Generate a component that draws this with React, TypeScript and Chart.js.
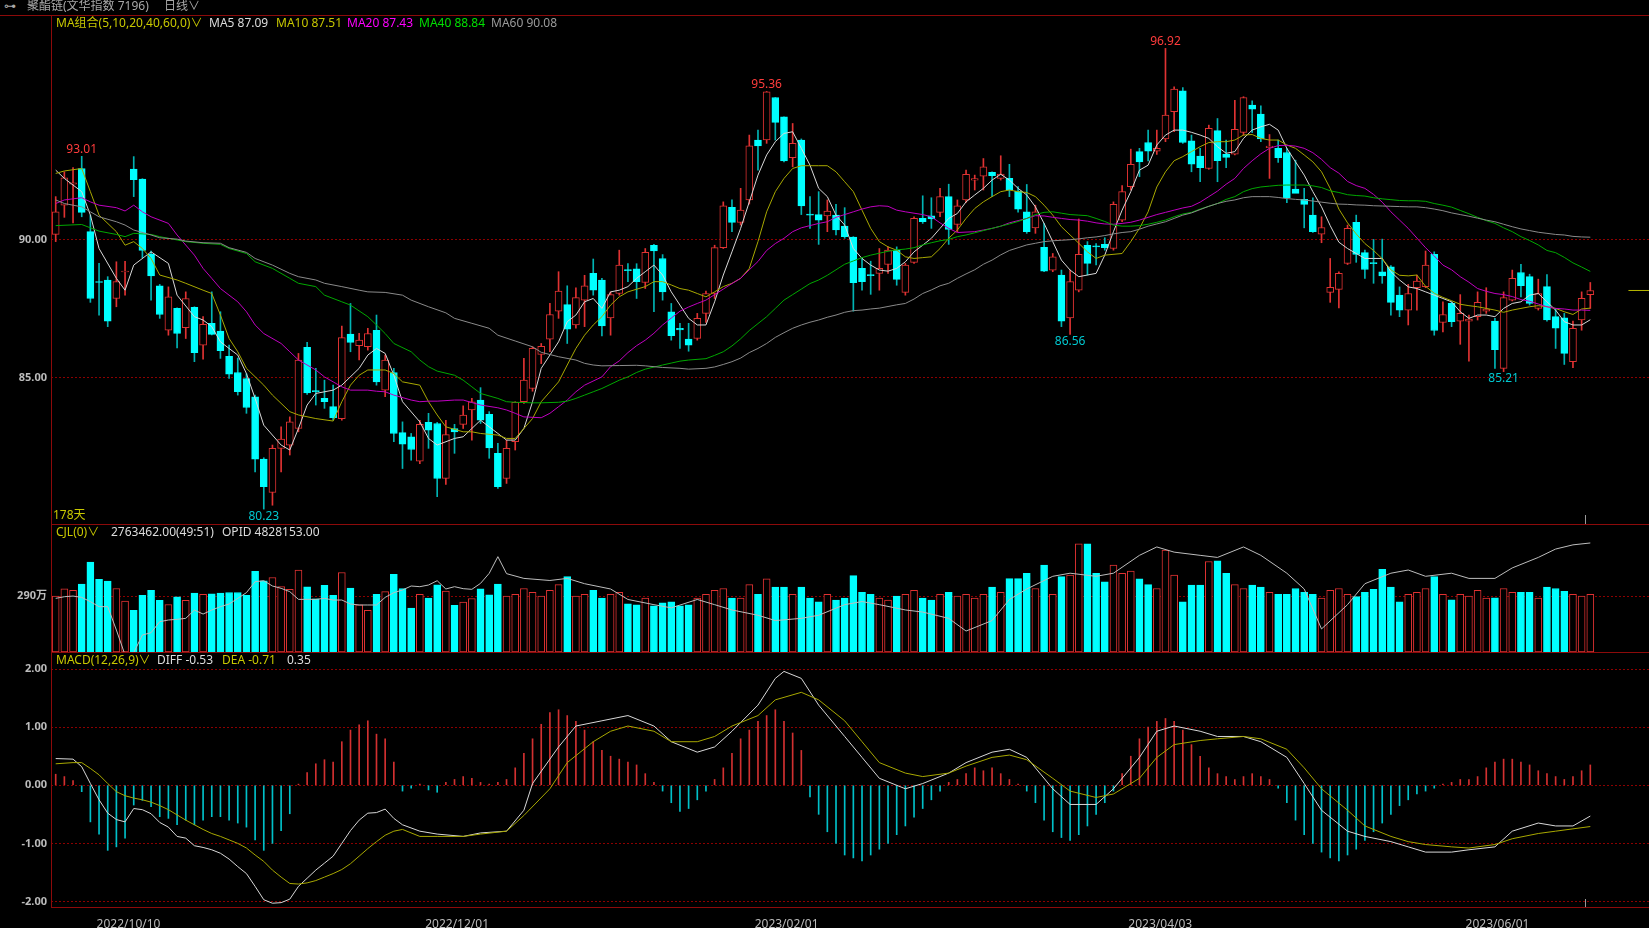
import React, { useEffect, useRef } from 'react';
import { Chart, registerables } from 'chart.js';
Chart.register(...registerables);

// ---------------- DATA ----------------
const OPEN = [90.18,91.24,92.0,92.57,90.28,88.47,88.53,87.86,88.82,92.55,92.19,89.46,88.32,86.71,87.5,86.8,87.54,86.17,86.96,86.68,85.76,85.18,84.96,84.3,82.04,80.83,82.43,82.55,83.15,86.09,84.52,84.24,83.94,83.51,86.57,86.15,86.11,86.71,84.54,85.18,83.0,82.85,81.97,83.37,83.33,81.34,83.15,83.3,83.82,84.18,83.66,82.25,81.34,82.67,84.12,84.6,85.83,86.39,87.4,87.64,86.9,87.8,88.77,88.53,87.16,88.04,88.91,88.93,88.44,89.79,89.31,87.38,86.78,86.39,86.41,87.32,88.04,89.7,91.16,90.62,91.43,93.6,93.6,95.14,94.44,92.96,93.6,90.92,90.9,90.85,90.88,90.48,90.08,88.95,88.71,88.77,89.09,89.61,88.08,89.17,90.76,90.85,90.98,91.55,90.54,91.43,92.15,92.29,92.43,92.21,92.21,91.75,91.0,90.42,89.71,88.89,88.71,87.16,88.16,89.79,89.76,89.82,89.67,90.7,91.91,93.18,93.51,93.2,93.64,94.63,95.38,93.57,93.02,92.57,93.94,93.08,93.09,93.88,94.87,94.54,93.32,93.3,93.15,91.82,91.45,90.88,90.19,88.08,88.19,89.13,90.62,89.52,89.16,88.83,89.01,87.98,87.44,88.25,88.29,89.46,86.99,87.68,87.04,87.04,87.2,87.4,87.04,85.33,87.8,88.8,88.65,87.5,88.29,87.2,87.16,85.57,87.08,88.0];
const HIGH = [91.55,92.45,92.6,93.01,90.88,89.13,88.65,89.19,89.21,93.0,92.2,89.58,88.37,88.28,87.52,88.1,87.56,87.2,88.1,87.38,86.17,85.7,85.14,84.36,82.09,82.55,83.21,83.57,85.87,86.27,85.33,84.9,84.72,86.86,87.68,86.6,86.78,87.26,85.81,85.33,83.39,82.97,83.45,83.7,83.37,83.45,83.3,83.97,84.24,84.63,83.76,82.61,82.73,84.12,85.69,86.11,86.23,87.68,88.83,88.32,88.25,88.7,89.29,88.59,88.1,89.61,89.12,89.12,89.67,89.82,89.45,87.68,86.96,86.96,87.32,88.13,89.79,91.36,91.43,91.85,93.78,93.96,95.36,95.14,94.44,94.2,93.64,91.55,91.73,91.43,91.27,91.15,90.1,89.31,89.21,89.67,89.73,89.73,89.13,90.82,91.58,91.51,91.85,92.0,91.43,92.51,92.33,92.93,92.45,93.03,92.72,91.91,91.99,91.24,90.58,89.49,88.89,88.89,90.74,89.92,89.85,90.06,91.36,91.95,93.27,93.3,93.96,93.96,96.92,95.53,95.5,93.78,93.3,94.14,94.38,93.6,95.04,95.17,95.02,94.84,93.8,93.6,93.3,92.87,91.85,91.51,90.82,89.31,88.83,90.52,90.88,89.61,90.0,90.01,89.05,88.28,88.37,88.71,89.58,89.55,87.74,87.74,88.0,87.26,88.1,88.25,87.14,88.1,88.89,89.1,88.74,88.56,88.73,87.5,87.32,87.04,88.1,88.44];
const LOW = [89.92,90.8,90.6,90.82,87.72,87.26,86.84,87.56,87.98,91.55,89.34,87.8,87.14,86.53,86.07,86.41,85.57,85.66,86.54,85.69,84.96,84.36,83.7,81.58,80.23,80.37,81.58,82.19,83.03,84.38,84.0,83.88,83.45,83.45,85.93,85.63,85.99,84.72,84.3,82.67,81.7,82.0,81.88,82.43,80.68,81.12,82.25,83.15,82.73,83.33,82.07,80.98,81.16,82.37,84.06,84.5,85.5,85.93,87.14,86.23,86.78,86.84,87.98,86.5,86.53,87.98,88.47,87.86,88.22,87.38,87.8,86.35,86.05,85.95,86.35,86.99,87.86,89.67,90.28,90.52,91.28,92.51,93.48,93.6,92.81,92.63,90.9,90.4,89.82,90.28,90.16,90.04,87.4,88.16,88.01,88.16,88.77,88.34,87.98,89.13,90.58,90.4,90.82,89.82,90.28,91.34,91.79,91.79,91.55,92.15,91.55,90.99,90.22,90.22,88.83,88.83,86.84,86.56,88.1,88.71,89.08,89.61,89.61,90.64,91.79,92.27,92.84,93.08,93.54,93.9,93.48,92.45,92.09,92.54,92.09,92.6,93.06,93.78,93.87,93.54,92.21,92.79,91.33,91.7,90.42,90.25,89.88,87.72,87.52,89.09,89.17,88.59,88.41,88.41,87.26,87.2,86.9,87.44,88.25,86.53,86.65,86.84,86.2,85.59,87.08,87.32,85.33,85.21,87.77,87.92,87.62,87.44,87.04,86.05,85.47,85.35,86.71,87.5];
const CLOSE = [91.0,92.23,92.05,90.98,87.86,88.44,87.04,88.47,88.85,92.16,89.6,88.68,87.28,87.92,86.59,87.86,85.9,86.92,86.56,85.97,85.12,84.48,83.91,82.04,81.04,82.43,82.77,83.39,85.63,84.44,84.48,84.12,83.54,86.44,86.27,86.35,86.59,84.84,85.63,82.97,82.58,82.39,83.3,83.09,81.34,82.93,83.03,83.64,84.12,83.45,82.45,81.04,82.43,84.1,84.9,86.05,86.13,87.28,88.13,86.75,87.89,88.32,88.16,86.87,88.0,89.07,88.87,88.47,89.53,89.58,88.1,86.51,86.72,86.17,87.14,88.04,89.7,91.22,90.62,91.06,93.39,93.39,95.35,94.24,92.84,93.48,91.21,90.88,90.7,91.03,90.34,90.1,88.43,88.47,88.69,88.95,89.61,88.55,89.07,90.76,90.64,90.74,91.55,90.36,91.22,92.36,92.2,92.63,92.31,92.37,91.79,91.1,90.28,91.0,88.85,89.37,87.04,88.47,89.46,89.13,89.73,89.7,91.27,91.73,92.72,92.81,93.2,93.3,94.5,95.45,93.51,92.73,92.6,94.02,92.85,92.97,93.99,95.14,94.72,93.64,93.38,92.96,91.51,91.67,91.27,90.28,90.43,88.26,88.77,90.4,89.46,88.91,89.12,88.68,87.72,87.44,88.04,88.49,89.07,86.7,87.28,87.02,87.32,87.11,87.72,87.48,86.01,87.89,88.59,88.32,87.68,88.04,87.08,86.78,85.87,86.78,87.87,88.15];
// volume in 万
const VOLUME = [291,328,320,353,467,377,368,330,264,217,294,320,268,247,286,269,306,299,302,306,309,309,295,419,370,387,340,325,425,338,276,346,294,413,332,245,217,300,314,404,330,228,299,280,349,316,242,259,278,328,297,353,
  290,300,330,310,290,320,350,392,
  290,300,320,280,300,310,250,245,280,240,
  255,260,240,245,280,300,320,330,280,280,
  350,300,380,337,337,300,337,280,260,300,
  270,280,397,310,300,280,270,290,300,320,
  280,270,300,310,290,300,280,300,337,310,
  381,381,409,330,452,300,392,400,562,562,
  409,365,452,409,420,380,350,330,529,400,
  260,348,348,470,474,409,350,330,348,337,
  310,299,299,330,310,299,280,320,330,300,
  288,310,326,430,337,260,300,310,330,392,
  300,271,300,290,320,280,282,330,310,310,
  310,280,337,330,315,300,290,300];
// open interest (万), sampled [index, value]
const OPID: [number, number][] = [[0,432.6],[1,434.1],[2,434.7],[3,433.5],[4,429.6],[5,425.1],[6,425.1],[7,403.9],[8,381.3],[9,383.4],[10,399.4],[11,401.5],[12,411.5],[13,413],[14,413.6],[15,414.5],[16,422],[17,418.4],[18,422],[19,425.1],[20,427.5],[21,432.6],[22,437.8],[23,447.7],[24,448.6],[25,443.8],[26,441.7],[27,438.7],[28,431.7],[29,431.7],[30,431.7],[31,432.6],[32,431.1],[33,431.1],[34,427.5],[35,426.6],[36,426.6],[37,426.6],[38,433.5],[39,437.8],[40,440.2],[41,443.8],[42,443.2],[43,444.7],[44,448.6],[45,441.1],[46,443.2],[47,441.4],[48,440.8],[49,446.2],[50,455.3],[51,470.4],[52,455],[54,450.7],[57,448.8],[59,450.7],[61,445.9],[64,441.1],[66,431.6],[69,426.9],[71,424],[74,431.6],[76,426.9],[78,422.1],[81,417.3],[83,412.5],[86,414.5],[88,417.3],[91,426.9],[93,429.7],[95,426.9],[98,422.1],[100,420.2],[103,414.5],[105,403],[108,412.5],[110,431.6],[112,441.1],[115,452.6],[117,455.4],[120,452.6],[122,455.4],[125,471.6],[127,479.2],[129,474.5],[132,471.6],[134,469.7],[137,479.2],[139,471.6],[142,455.4],[144,441.1],[146,404.9],[149,426.9],[151,445.9],[154,455.4],[156,458.3],[158,452.6],[161,455.4],[163,450.7],[166,450.7],[168,460.2],[171,469.7],[173,477.3],[175,481.1],[177,482.8]];

const MA5: [number, number][] = [[0,92.51],[1,92.21],[3,91.73],[4,90.88],[5,89.67],[7,88.59],[8,88.16],[9,89.07],[11,89.55],[13,89.13],[14,87.98],[16,87.2],[17,87.08],[18,86.84],[19,86.29],[21,85.81],[22,85.14],[23,84.24],[24,83.27],[26,82.55],[27,82.37],[28,83.15],[29,84.0],[30,84.42],[32,84.54],[33,84.72],[35,85.33],[36,85.81],[37,86.05],[38,85.87],[39,85.08],[40,84.12],[42,83.39],[43,82.79],[44,82.55],[46,82.79],[47,82.85],[48,83.15],[49,83.45],[51,82.97],[52,82.73],[53,82.73],[54,83.15],[55,84.12],[56,85.33],[58,86.29],[59,87.02],[60,87.26],[61,87.74],[62,87.86],[63,87.5],[64,88.1],[65,88.16],[66,88.29],[67,88.59],[68,88.83],[69,89.07],[70,88.71],[71,88.1],[72,87.62],[73,87.14],[74,86.9],[75,86.9],[76,87.74],[77,88.71],[78,89.55],[79,90.4],[80,91.36],[81,92.33],[82,93.06],[83,93.54],[84,93.84],[85,93.9],[86,93.3],[87,92.69],[88,91.85],[89,91.55],[90,90.88],[91,90.52],[92,89.67],[93,89.31],[94,89.07],[95,88.89],[96,88.85],[97,88.95],[98,89.19],[99,89.55],[100,89.79],[101,90.04],[102,90.4],[103,90.76],[104,90.94],[105,91.36],[106,91.61],[107,91.85],[108,92.15],[109,92.36],[110,92.15],[111,91.85],[112,91.61],[113,91.18],[114,90.58],[115,89.92],[116,89.25],[117,88.89],[118,88.65],[119,88.71],[120,88.77],[121,89.43],[122,90.28],[123,91.06],[124,91.73],[125,92.51],[126,92.69],[127,93.42],[128,93.78],[129,93.96],[130,93.96],[131,93.88],[132,93.78],[133,93.66],[134,93.36],[135,93.12],[136,93.18],[137,93.66],[138,93.96],[139,94.08],[140,94.17],[141,93.96],[142,93.3],[143,92.81],[144,92.33],[145,91.73],[146,91.18],[147,90.5],[148,89.9],[149,89.67],[150,89.49],[151,89.31],[152,89.31],[153,89.31],[154,88.83],[155,88.53],[156,88.28],[157,88.22],[158,88.1],[159,87.98],[160,87.86],[161,87.74],[162,87.38],[163,87.14],[164,87.26],[165,87.26],[166,87.2],[167,87.5],[168,87.68],[169,87.74],[170,87.98],[171,88.04],[172,87.74],[173,87.44],[174,87.02],[175,86.9],[176,86.9],[177,87.09]];
const MA10: [number, number][] = [[0,92.39],[1,92.48],[3,92.57],[4,91.73],[5,90.88],[7,90.28],[8,89.79],[9,89.92],[10,89.67],[11,89.31],[12,88.71],[14,88.53],[15,88.41],[17,88.16],[18,88.04],[19,87.26],[20,86.41],[21,85.93],[22,85.33],[24,84.72],[25,84.36],[27,83.76],[28,83.64],[30,83.51],[32,83.42],[33,84.12],[34,84.72],[35,85.08],[36,85.27],[38,85.27],[39,85.14],[40,84.84],[42,84.72],[43,84.12],[44,83.64],[45,83.21],[47,83.03],[48,83.03],[49,82.97],[51,82.91],[52,82.79],[53,82.79],[54,83.15],[55,83.51],[56,84.12],[58,84.84],[59,85.45],[60,86.05],[61,86.53],[62,86.9],[63,87.2],[64,87.62],[65,87.92],[66,88.1],[68,88.29],[69,88.47],[70,88.47],[71,88.35],[72,88.22],[73,88.16],[74,88.04],[75,87.92],[76,88.1],[77,88.29],[78,88.41],[79,88.59],[80,88.95],[81,89.92],[82,91.0],[83,91.73],[84,92.21],[85,92.57],[86,92.67],[87,92.67],[88,92.67],[89,92.67],[90,92.45],[91,92.09],[92,91.73],[93,91.06],[94,90.4],[95,89.92],[96,89.73],[97,89.61],[98,89.37],[99,89.31],[100,89.34],[101,89.37],[102,89.67],[103,90.04],[104,90.34],[105,90.76],[106,91.12],[107,91.36],[108,91.55],[109,91.73],[110,91.79],[111,91.73],[112,91.7],[113,91.55],[114,91.24],[115,90.88],[116,90.46],[117,90.16],[118,89.86],[119,89.55],[120,89.31],[121,89.43],[123,89.49],[124,89.92],[125,90.4],[126,91.0],[127,91.9],[128,92.45],[129,92.85],[130,93.0],[131,93.18],[132,93.36],[133,93.51],[134,93.54],[135,93.54],[136,93.6],[137,93.78],[138,93.8],[139,93.66],[140,93.6],[141,93.6],[142,93.42],[143,93.3],[144,93.06],[145,92.81],[146,92.45],[147,91.85],[148,91.1],[149,90.6],[150,90.2],[151,89.85],[152,89.6],[153,89.3],[154,88.9],[155,88.7],[156,88.68],[157,88.71],[158,88.3],[159,88.05],[160,87.9],[161,87.78],[162,87.65],[163,87.6],[164,87.56],[165,87.5],[166,87.44],[167,87.36],[168,87.44],[169,87.5],[170,87.56],[171,87.6],[172,87.56],[173,87.5],[174,87.38],[175,87.28],[176,87.48],[177,87.51]];
const MA20: [number, number][] = [[0,91.3],[1,91.43],[3,91.51],[4,91.36],[5,91.24],[7,91.15],[8,91.03],[9,91.24],[10,91.0],[11,90.82],[13,90.58],[14,90.16],[16,89.43],[17,88.95],[18,88.59],[19,88.22],[21,87.74],[22,87.38],[23,86.9],[24,86.59],[26,86.23],[27,85.93],[28,85.63],[30,85.27],[31,85.02],[32,84.84],[33,84.66],[34,84.54],[36,84.54],[37,84.5],[38,84.48],[39,84.36],[41,84.18],[42,84.12],[43,84.14],[44,84.14],[46,84.18],[47,84.18],[48,84.09],[49,84.0],[51,83.9],[52,83.82],[53,83.7],[54,83.57],[56,83.54],[57,83.7],[58,83.94],[59,84.18],[60,84.48],[61,84.72],[63,85.02],[64,85.39],[65,85.6],[66,85.9],[67,86.15],[68,86.35],[69,86.6],[70,86.9],[71,87.15],[72,87.4],[73,87.55],[74,87.68],[75,87.8],[76,88.0],[77,88.2],[78,88.4],[79,88.59],[80,88.9],[81,89.2],[82,89.6],[83,89.85],[84,90.04],[85,90.28],[86,90.42],[87,90.5],[88,90.58],[89,90.64],[90,90.8],[91,90.9],[92,91.0],[93,91.1],[94,91.18],[95,91.22],[96,91.2],[97,91.06],[98,91.0],[100,90.9],[101,90.82],[102,90.6],[103,90.4],[104,90.25],[106,90.28],[107,90.34],[108,90.4],[109,90.48],[110,90.6],[111,90.68],[112,90.76],[113,90.86],[114,90.85],[115,90.8],[116,90.76],[117,90.72],[118,90.7],[119,90.66],[120,90.6],[121,90.56],[122,90.55],[123,90.58],[124,90.62],[125,90.7],[126,90.8],[127,90.9],[128,90.98],[129,91.06],[130,91.14],[131,91.2],[132,91.35],[133,91.55],[134,91.75],[135,92.0],[136,92.21],[137,92.57],[138,92.85],[139,93.1],[140,93.3],[141,93.4],[142,93.41],[143,93.38],[144,93.3],[145,93.14],[146,92.9],[147,92.6],[148,92.4],[149,92.1],[150,91.95],[151,91.85],[152,91.63],[153,91.35],[154,91.0],[155,90.7],[156,90.4],[157,90.05],[158,89.7],[159,89.4],[160,89.07],[161,88.9],[162,88.65],[163,88.45],[164,88.22],[165,88.12],[166,88.04],[167,88.0],[168,87.93],[169,87.82],[170,87.76],[171,87.66],[172,87.56],[173,87.5],[174,87.48],[175,87.44],[176,87.44],[177,87.43]];
const MA40: [number, number][] = [[0,90.5],[3,90.54],[4,90.42],[5,90.3],[7,90.18],[8,90.1],[9,90.22],[11,90.18],[12,90.1],[14,89.98],[15,89.92],[17,89.86],[19,89.82],[20,89.67],[22,89.49],[23,89.19],[25,88.95],[27,88.59],[28,88.41],[30,88.29],[31,87.98],[33,87.74],[34,87.62],[36,87.2],[37,86.9],[38,86.59],[39,86.23],[41,85.93],[42,85.63],[43,85.39],[44,85.23],[46,85.08],[47,84.9],[48,84.66],[49,84.42],[51,84.24],[52,84.12],[53,84.1],[55,84.08],[56,84.08],[58,84.1],[59,84.14],[60,84.24],[61,84.36],[62,84.48],[63,84.6],[65,84.9],[66,85.02],[67,85.18],[68,85.3],[70,85.45],[71,85.52],[72,85.59],[73,85.63],[75,85.68],[76,85.8],[77,85.93],[78,86.14],[79,86.4],[80,86.7],[81,86.95],[82,87.2],[83,87.5],[84,87.8],[85,88.0],[86,88.2],[87,88.4],[88,88.53],[89,88.7],[90,88.9],[91,89.1],[92,89.22],[93,89.34],[94,89.43],[95,89.5],[96,89.57],[97,89.62],[98,89.65],[99,89.7],[100,89.8],[101,89.88],[102,89.95],[103,90.0],[104,90.1],[105,90.16],[106,90.24],[107,90.32],[108,90.4],[109,90.48],[110,90.56],[111,90.65],[112,90.76],[113,90.9],[114,90.98],[115,91.0],[116,90.95],[117,90.9],[118,90.88],[119,90.86],[120,90.76],[121,90.65],[122,90.52],[123,90.48],[124,90.48],[125,90.5],[126,90.55],[127,90.62],[128,90.7],[129,90.82],[130,90.92],[131,90.98],[132,91.1],[133,91.2],[134,91.3],[135,91.45],[136,91.55],[137,91.73],[138,91.84],[139,91.9],[140,91.93],[141,91.96],[142,91.97],[143,91.97],[144,91.97],[145,91.94],[146,91.88],[147,91.76],[148,91.7],[149,91.62],[150,91.59],[151,91.57],[152,91.51],[153,91.47],[154,91.44],[155,91.41],[156,91.4],[157,91.4],[158,91.38],[159,91.3],[160,91.24],[161,91.17],[162,91.05],[163,90.93],[164,90.8],[165,90.68],[166,90.58],[167,90.42],[168,90.28],[169,90.1],[170,89.96],[171,89.8],[172,89.6],[173,89.52],[174,89.35],[175,89.15],[176,89.0],[177,88.84]];
const MA60: [number, number][] = [[0,91.43],[1,91.3],[3,91.18],[4,91.0],[5,90.82],[7,90.64],[8,90.52],[9,90.34],[11,90.16],[12,90.06],[14,90.01],[15,89.94],[17,89.88],[19,89.86],[20,89.7],[22,89.53],[23,89.31],[25,89.07],[27,88.77],[28,88.65],[30,88.53],[31,88.41],[33,88.29],[35,88.16],[36,88.1],[38,88.08],[40,87.98],[41,87.8],[43,87.56],[45,87.34],[46,87.14],[48,86.96],[50,86.78],[51,86.53],[53,86.32],[55,86.11],[56,85.91],[58,85.75],[60,85.63],[61,85.51],[62,85.45],[63,85.42],[65,85.43],[67,85.44],[68,85.42],[70,85.36],[72,85.33],[73,85.3],[75,85.33],[76,85.38],[77,85.47],[78,85.57],[79,85.7],[80,85.9],[81,86.05],[82,86.23],[83,86.45],[84,86.62],[85,86.78],[86,86.9],[87,87.0],[88,87.08],[89,87.18],[90,87.26],[91,87.36],[92,87.42],[93,87.44],[94,87.48],[95,87.51],[96,87.57],[97,87.63],[98,87.68],[99,87.84],[100,88.04],[101,88.17],[102,88.32],[103,88.41],[104,88.59],[105,88.75],[106,88.9],[107,89.1],[108,89.25],[109,89.44],[110,89.6],[111,89.7],[112,89.8],[113,89.86],[114,89.92],[115,89.95],[116,89.97],[117,89.99],[118,90.02],[119,90.06],[120,90.09],[121,90.14],[122,90.2],[123,90.25],[124,90.28],[125,90.37],[126,90.48],[127,90.56],[128,90.64],[129,90.76],[130,90.88],[131,90.96],[132,91.08],[133,91.2],[134,91.3],[135,91.38],[136,91.43],[137,91.51],[138,91.55],[139,91.55],[140,91.55],[141,91.52],[142,91.48],[143,91.45],[144,91.43],[145,91.39],[146,91.35],[147,91.31],[148,91.28],[149,91.27],[150,91.25],[151,91.24],[152,91.22],[153,91.21],[154,91.2],[155,91.19],[156,91.18],[157,91.18],[158,91.15],[159,91.1],[160,91.04],[161,90.96],[162,90.9],[163,90.84],[164,90.77],[165,90.7],[166,90.64],[167,90.55],[168,90.46],[169,90.38],[170,90.32],[171,90.26],[172,90.22],[173,90.18],[174,90.16],[175,90.11],[176,90.09],[177,90.08]];

const MACD_HIST = [0.19,0.15,0.08,-0.11,-0.63,-0.84,-1.12,-1.06,-0.91,-0.34,-0.26,-0.37,-0.54,-0.57,-0.68,-0.60,-0.68,-0.60,-0.54,-0.54,-0.60,-0.65,-0.72,-0.94,-1.12,-1.00,-0.78,-0.49,0.02,0.22,0.37,0.44,0.40,0.75,0.95,1.04,1.11,0.88,0.80,0.40,-0.1,-0.05,0.02,-0.08,-0.12,0.05,0.1,0.15,0.12,0.05,0.02,0.05,0.1,0.3,0.55,0.8,1.05,1.25,1.3,1.2,1.1,0.95,0.75,0.6,0.5,0.45,0.4,0.35,0.2,0.05,-0.1,-0.3,-0.45,-0.4,-0.25,-0.1,0.1,0.3,0.55,0.8,0.95,1.1,1.2,1.3,1.1,0.9,0.6,-0.2,-0.5,-0.8,-1.0,-1.2,-1.25,-1.3,-1.2,-1.1,-1.0,-0.85,-0.7,-0.55,-0.4,-0.25,-0.1,0.05,0.1,0.2,0.3,0.25,0.3,0.2,0.1,0.02,-0.1,-0.3,-0.6,-0.8,-0.9,-0.95,-0.85,-0.7,-0.5,-0.3,-0.1,0.2,0.5,0.8,1.0,1.1,1.15,1.1,0.95,0.7,0.5,0.3,0.2,0.15,0.1,0.15,0.2,0.15,0.1,-0.05,-0.3,-0.6,-0.85,-1.0,-1.15,-1.25,-1.3,-1.2,-1.1,-0.95,-0.8,-0.65,-0.5,-0.35,-0.25,-0.15,-0.1,-0.05,0.02,0.05,0.1,0.1,0.15,0.3,0.4,0.45,0.45,0.4,0.35,0.25,0.2,0.15,0.1,0.15,0.25,0.35];
const DIFF: [number, number][] = [[0,0.46],[2,0.45],[3,0.32],[4,0.03],[5,-0.25],[6,-0.48],[7,-0.59],[8,-0.63],[9,-0.40],[10,-0.42],[11,-0.49],[12,-0.64],[13,-0.72],[14,-0.88],[15,-0.91],[16,-1.04],[17,-1.07],[18,-1.11],[19,-1.17],[20,-1.27],[21,-1.40],[22,-1.52],[23,-1.74],[24,-1.97],[25,-2.03],[26,-2.02],[27,-1.96],[28,-1.74],[29,-1.60],[30,-1.46],[31,-1.34],[32,-1.22],[33,-1.0],[34,-0.78],[35,-0.60],[36,-0.48],[37,-0.47],[38,-0.41],[39,-0.57],[40,-0.68],[42,-0.79],[44,-0.84],[47,-0.88],[49,-0.82],[52,-0.79],[54,-0.43],[55,0.03],[58,0.66],[60,1.02],[63,1.11],[66,1.2],[69,1.02],[71,0.75],[74,0.57],[76,0.66],[78,0.93],[81,1.38],[83,1.84],[84,1.96],[86,1.84],[88,1.38],[91,0.84],[93,0.48],[95,0.12],[98,-0.06],[100,0.03],[103,0.21],[105,0.39],[108,0.57],[110,0.62],[112,0.48],[115,-0.06],[117,-0.33],[120,-0.33],[122,-0.06],[125,0.48],[127,0.93],[129,1.02],[132,0.93],[134,0.84],[137,0.84],[139,0.75],[142,0.48],[144,0.03],[146,-0.43],[149,-0.79],[151,-0.88],[154,-0.97],[156,-1.06],[158,-1.15],[161,-1.15],[163,-1.11],[166,-1.06],[168,-0.79],[171,-0.65],[173,-0.70],[175,-0.70],[177,-0.53]];
const DEA: [number, number][] = [[0,0.37],[2,0.39],[3,0.39],[4,0.29],[5,0.18],[6,0.03],[7,-0.11],[8,-0.18],[9,-0.22],[10,-0.25],[11,-0.29],[12,-0.35],[13,-0.42],[14,-0.51],[15,-0.60],[16,-0.68],[17,-0.76],[18,-0.83],[19,-0.88],[20,-0.94],[21,-1.0],[22,-1.08],[23,-1.2],[24,-1.31],[25,-1.46],[26,-1.58],[27,-1.69],[28,-1.70],[29,-1.68],[30,-1.64],[31,-1.58],[32,-1.52],[33,-1.45],[34,-1.35],[35,-1.22],[36,-1.09],[37,-0.97],[38,-0.86],[39,-0.79],[40,-0.76],[42,-0.88],[44,-0.88],[47,-0.88],[49,-0.84],[52,-0.79],[54,-0.52],[57,-0.06],[59,0.39],[62,0.75],[64,0.93],[66,1.02],[69,0.93],[71,0.75],[74,0.75],[76,0.84],[78,1.02],[81,1.2],[83,1.47],[86,1.6],[88,1.47],[91,1.11],[93,0.75],[95,0.39],[98,0.21],[100,0.15],[103,0.21],[105,0.33],[108,0.48],[110,0.52],[112,0.44],[115,0.12],[117,-0.1],[120,-0.21],[122,-0.15],[125,0.12],[127,0.48],[129,0.7],[132,0.77],[134,0.8],[137,0.84],[139,0.8],[142,0.62],[144,0.3],[146,-0.06],[149,-0.43],[151,-0.7],[154,-0.88],[156,-0.97],[158,-1.02],[161,-1.06],[163,-1.08],[166,-1.02],[168,-0.92],[171,-0.83],[173,-0.79],[175,-0.75],[177,-0.71]];

const HIGH_MARKS = [3, 82, 128];
const LOW_MARKS = [24, 117, 167];
const PRICE_TICKS = [85, 90];
const VOLUME_TICKS = [290];
const MACD_TICKS = [-2, -1, 0, 1, 2];
const DATE_TICKS = [8.4, 46.3, 84.3, 127.4, 166.3];
const DATE_LABELS = ['2022/10/10', '2022/12/01', '2023/02/01', '2023/04/03', '2023/06/01'];

// ---------------- STYLE ----------------
const W = 1649;
const X_MIN = -0.542;
const X_MAX = 183.77;
const AXIS_W = 51;
const RED = '#e03232';
const CYAN = '#00ffff';
const CYAN_WICK = '#00b4b4';
const FRAME = '#8c0a0a';
const GRID = '#8c0000';
const TICK = '#bcbcbc';
const FONT = '"Noto Sans", "Noto Sans CJK SC", sans-serif';

const up = (i: number) => CLOSE[i] >= OPEN[i];
const pts = (arr: [number, number][]) => arr.map(([x, y]) => ({ x, y }));

const noPad = (s: any) => { s.paddingTop = 0; s.paddingBottom = 0; s.paddingLeft = 0; s.paddingRight = 0; };

function xScale(display: boolean): any {
  return {
    type: 'linear', min: X_MIN, max: X_MAX, offset: false, display,
    grid: { display: false }, border: { display: false },
    afterBuildTicks: (s: any) => { s.ticks = DATE_TICKS.map((v) => ({ value: v })); },
    afterFit: (s: any) => { noPad(s); if (display) s.height = 21; },
    ticks: {
      autoSkip: false, maxRotation: 0, color: TICK, padding: 2,
      font: { size: 12, family: FONT },
      callback: (_v: any, idx: number) => DATE_LABELS[idx],
    },
  };
}

function yScale(min: number, max: number, ticks: number[], fmt: (v: number) => string): any {
  return {
    position: 'left', min, max,
    afterFit: (s: any) => { s.width = AXIS_W; noPad(s); },
    afterBuildTicks: (s: any) => { s.ticks = ticks.map((v) => ({ value: v })); },
    ticks: { color: TICK, padding: 4, font: { size: 11, family: FONT, weight: 'bold' }, callback: (v: any) => fmt(Number(v)) },
    grid: { color: GRID, drawTicks: false, lineWidth: 1 },
    border: { display: false, dash: [2, 2] },
  };
}

const baseOptions: any = {
  responsive: false, animation: false, events: [],
  layout: { padding: 0 },
  plugins: { legend: { display: false }, tooltip: { enabled: false } },
};

const markPlugin = {
  id: 'marks',
  afterDatasetsDraw(chart: any) {
    const { ctx, scales } = chart;
    const x = scales.x, y = scales.y;
    ctx.save();
    ctx.font = `12px ${FONT}`;
    ctx.textAlign = 'center';
    ctx.fillStyle = '#ff3c3c';
    ctx.textBaseline = 'bottom';
    HIGH_MARKS.forEach((i) => ctx.fillText(HIGH[i].toFixed(2), x.getPixelForValue(i), y.getPixelForValue(HIGH[i]) - 1));
    ctx.fillStyle = '#00c8d0';
    ctx.textBaseline = 'top';
    LOW_MARKS.forEach((i) => ctx.fillText(LOW[i].toFixed(2), x.getPixelForValue(i), y.getPixelForValue(LOW[i]) + 1));
    ctx.restore();
  },
};

function line(data: [number, number][], color: string, yAxisID = 'y'): any {
  return { type: 'line', data: pts(data), borderColor: color, borderWidth: 1, pointRadius: 0, tension: 0, yAxisID, order: 0 };
}

function useChart(makeConfig: () => any) {
  const ref = useRef<HTMLCanvasElement | null>(null);
  useEffect(() => {
    if (!ref.current) return;
    const chart = new Chart(ref.current, makeConfig());
    return () => chart.destroy();
  }, []);
  return ref;
}

function priceConfig(): any {
  const idx = OPEN.map((_, i) => i);
  return {
    type: 'bar',
    data: {
      datasets: [
        {
          data: idx.map((i) => ({ x: i, y: [LOW[i], HIGH[i]] })),
          backgroundColor: idx.map((i) => (up(i) ? RED : CYAN_WICK)),
          barThickness: 1, grouped: false, order: 3,
        },
        {
          data: idx.map((i) => ({ x: i, y: [OPEN[i], CLOSE[i]] })),
          backgroundColor: idx.map((i) => (up(i) ? '#000000' : CYAN)),
          borderColor: idx.map((i) => (up(i) ? RED : CYAN)),
          borderWidth: 1, borderSkipped: false, barThickness: 7, minBarLength: 1, grouped: false, order: 2,
        },
        line(MA60, '#8a8a8a'),
        line(MA40, '#00a800'),
        line(MA20, '#c000c0'),
        line(MA10, '#a8a800'),
        line(MA5, '#d8d8d8'),
        { type: 'line', data: [{ x: 181.4, y: CLOSE[CLOSE.length - 1] }, { x: X_MAX, y: CLOSE[CLOSE.length - 1] }], borderColor: '#b8b800', borderWidth: 1, pointRadius: 0, order: 0 },
      ],
    },
    options: { ...baseOptions, scales: { x: xScale(false), y: yScale(79.69, 98.13, PRICE_TICKS, (v) => v.toFixed(2)) } },
    plugins: [markPlugin],
  };
}

function volumeConfig(): any {
  const idx = VOLUME.map((_, i) => i);
  return {
    type: 'bar',
    data: {
      datasets: [
        {
          data: idx.map((i) => ({ x: i, y: VOLUME[i] })),
          backgroundColor: idx.map((i) => (up(i) ? '#000000' : CYAN)),
          borderColor: idx.map((i) => (up(i) ? RED : CYAN)),
          borderWidth: 1, borderSkipped: false, barThickness: 7, grouped: false, order: 2,
        },
        line(OPID, '#bdbdbd', 'y2'),
      ],
    },
    options: {
      ...baseOptions,
      scales: {
        x: xScale(false),
        y: yScale(0, 665, VOLUME_TICKS, (v) => `${v}万`),
        y2: { display: false, min: 384, max: 500 },
      },
    },
  };
}

function macdConfig(): any {
  const idx = MACD_HIST.map((_, i) => i);
  return {
    type: 'bar',
    data: {
      datasets: [
        {
          data: idx.map((i) => ({ x: i, y: MACD_HIST[i] })),
          backgroundColor: idx.map((i) => (MACD_HIST[i] >= 0 ? '#d23030' : '#00c0c8')),
          barThickness: 1, grouped: false, order: 2,
        },
        line(DEA, '#a8a800'),
        line(DIFF, '#d8d8d8'),
      ],
    },
    options: {
      ...baseOptions,
      scales: { x: xScale(true), y: yScale(-2.095, 2.294, MACD_TICKS, (v) => v.toFixed(2)) },
    },
  };
}

const Txt = ({ x, y, color, children, size = 12 }: any) => (
  <div style={{ position: 'absolute', left: x, top: y - 8, height: 16, lineHeight: '16px', fontSize: size, color, whiteSpace: 'nowrap', fontFamily: FONT }}>{children}</div>
);

const HLine = ({ x1, x2, y, color = FRAME }: any) => (
  <div style={{ position: 'absolute', left: x1, top: y, width: x2 - x1, height: 1, background: color }} />
);
const VLine = ({ x, y1, y2, color = FRAME }: any) => (
  <div style={{ position: 'absolute', left: x, top: y1, width: 1, height: y2 - y1, background: color }} />
);

export default function App() {
  const priceRef = useChart(priceConfig);
  const volRef = useChart(volumeConfig);
  const macdRef = useChart(macdConfig);
  const last = OPEN.length - 1;
  return (
    <div style={{ position: 'fixed', left: 0, top: 0, width: W, height: 928, background: '#000', overflow: 'hidden', fontFamily: FONT }}>
      <canvas ref={priceRef} width={W} height={509} style={{ position: 'absolute', left: 0, top: 15, width: W, height: 509 }} />
      <canvas ref={volRef} width={W} height={128} style={{ position: 'absolute', left: 0, top: 524, width: W, height: 128 }} />
      <canvas ref={macdRef} width={W} height={276} style={{ position: 'absolute', left: 0, top: 652, width: W, height: 276 }} />

      <HLine x1={0} x2={W} y={15} />
      <VLine x={51} y1={15} y2={908} />
      <HLine x1={51} x2={W} y={524} />
      <HLine x1={51} x2={W} y={652} />
      <HLine x1={51} x2={W} y={907} />
      <VLine x={1585} y1={515} y2={524} color="#9a9a9a" />
      <VLine x={1585} y1={899} y2={907} color="#9a9a9a" />

      <Txt x={4} y={6} color="#a8a8a8">⊶</Txt>
      <Txt x={27} y={6} color="#a8a8a8">聚酯链(文华指数 7196)</Txt>
      <Txt x={164} y={6} color="#a8a8a8">日线∨</Txt>

      <Txt x={56} y={23} color="#c8c800">MA组合(5,10,20,40,60,0)∨</Txt>
      <Txt x={209} y={23} color="#dcdcdc">MA5 87.09</Txt>
      <Txt x={276} y={23} color="#c8c800">MA10 87.51</Txt>
      <Txt x={347} y={23} color="#ff00ff">MA20 87.43</Txt>
      <Txt x={419} y={23} color="#00e000">MA40 88.84</Txt>
      <Txt x={491} y={23} color="#9a9a9a">MA60 90.08</Txt>
      <Txt x={53} y={515} color="#c8c800">{`${last + 1}天`}</Txt>

      <Txt x={56} y={532} color="#c8c800">CJL(0)∨</Txt>
      <Txt x={111} y={532} color="#dcdcdc">2763462.00(49:51)</Txt>
      <Txt x={222} y={532} color="#dcdcdc">OPID 4828153.00</Txt>

      <Txt x={56} y={660} color="#c8c800">MACD(12,26,9)∨</Txt>
      <Txt x={157} y={660} color="#dcdcdc">DIFF -0.53</Txt>
      <Txt x={222} y={660} color="#c8c800">DEA -0.71</Txt>
      <Txt x={287} y={660} color="#dcdcdc">0.35</Txt>
    </div>
  );
}
